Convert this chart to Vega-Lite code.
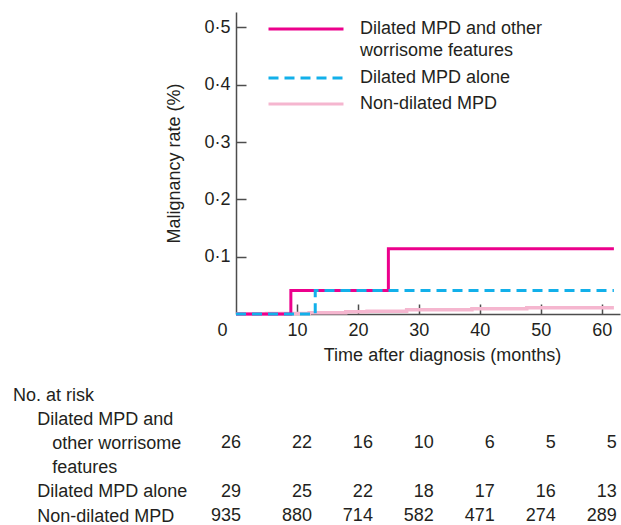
{
  "$schema": "https://vega.github.io/schema/vega-lite/v6.json",
  "padding": {"left": 12, "top": 12, "right": 0, "bottom": 0},
  "background": "white",
  "spacing": 22,
  "config": {
    "view": {"stroke": null},
    "font": "Liberation Sans",
    "text": {"font": "Liberation Sans"}
  },
  "datasets": {
    "curves": [
      {"series": "Non-dilated MPD", "time": 0, "rate": 0},
      {"series": "Non-dilated MPD", "time": 5, "rate": 0.001},
      {"series": "Non-dilated MPD", "time": 12, "rate": 0.002},
      {"series": "Non-dilated MPD", "time": 18, "rate": 0.004},
      {"series": "Non-dilated MPD", "time": 21.5, "rate": 0.005},
      {"series": "Non-dilated MPD", "time": 28, "rate": 0.0075},
      {"series": "Non-dilated MPD", "time": 38.7, "rate": 0.0093},
      {"series": "Non-dilated MPD", "time": 47.7, "rate": 0.011},
      {"series": "Non-dilated MPD", "time": 62, "rate": 0.011},
      {"series": "Dilated MPD and other worrisome features", "time": 0, "rate": 0},
      {"series": "Dilated MPD and other worrisome features", "time": 9, "rate": 0.041},
      {"series": "Dilated MPD and other worrisome features", "time": 25, "rate": 0.114},
      {"series": "Dilated MPD and other worrisome features", "time": 62, "rate": 0.114},
      {"series": "Dilated MPD alone", "time": 0, "rate": 0},
      {"series": "Dilated MPD alone", "time": 13, "rate": 0.041},
      {"series": "Dilated MPD alone", "time": 62, "rate": 0.041}
    ],
    "risk": [
      {"group": "Dilated MPD and other worrisome features", "time": 0, "n": 26},
      {"group": "Dilated MPD and other worrisome features", "time": 10, "n": 22},
      {"group": "Dilated MPD and other worrisome features", "time": 20, "n": 16},
      {"group": "Dilated MPD and other worrisome features", "time": 30, "n": 10},
      {"group": "Dilated MPD and other worrisome features", "time": 40, "n": 6},
      {"group": "Dilated MPD and other worrisome features", "time": 50, "n": 5},
      {"group": "Dilated MPD and other worrisome features", "time": 60, "n": 5},
      {"group": "Dilated MPD alone", "time": 0, "n": 29},
      {"group": "Dilated MPD alone", "time": 10, "n": 25},
      {"group": "Dilated MPD alone", "time": 20, "n": 22},
      {"group": "Dilated MPD alone", "time": 30, "n": 18},
      {"group": "Dilated MPD alone", "time": 40, "n": 17},
      {"group": "Dilated MPD alone", "time": 50, "n": 16},
      {"group": "Dilated MPD alone", "time": 60, "n": 13},
      {"group": "Non-dilated MPD", "time": 0, "n": 935},
      {"group": "Non-dilated MPD", "time": 10, "n": 880},
      {"group": "Non-dilated MPD", "time": 20, "n": 714},
      {"group": "Non-dilated MPD", "time": 30, "n": 582},
      {"group": "Non-dilated MPD", "time": 40, "n": 471},
      {"group": "Non-dilated MPD", "time": 50, "n": 274},
      {"group": "Non-dilated MPD", "time": 60, "n": 289}
    ]
  },
  "vconcat": [
    {
      "width": 384,
      "height": 302,
      "data": {"name": "curves"},
      "encoding": {
        "x": {
          "field": "time", "type": "quantitative",
          "scale": {"domain": [0, 63], "nice": false, "zero": false},
          "axis": {
            "title": "Time after diagnosis (months)",
            "values": [0, 10, 20, 30, 40, 50, 60],
            "grid": false,
            "tickSize": -10,
            "tickWidth": 1.5,
            "tickColor": "#4d4d4d",
            "tickOpacity": {"condition": {"test": "datum.value == 0", "value": 0}, "value": 1},
            "labelOffset": {"condition": {"test": "datum.value == 0", "value": -14}, "value": 0},
            "domainColor": "#4d4d4d",
            "domainWidth": 1.5,
            "labelFlush": false,
            "labelOverlap": false,
            "labelPadding": 17,
            "labelFont": "Liberation Sans",
            "labelFontSize": 18,
            "labelColor": "#231f20",
            "titleFont": "Liberation Sans",
            "titleFontSize": 18,
            "titleFontWeight": "normal",
            "titleColor": "#231f20",
            "titleX": 206,
            "titlePadding": 7
          }
        },
        "y": {
          "field": "rate", "type": "quantitative",
          "scale": {"domain": [0, 0.527], "nice": false},
          "axis": {
            "title": "Malignancy rate (%)",
            "values": [0.1, 0.2, 0.3, 0.4, 0.5],
            "labelExpr": "replace(format(datum.value, '.1f'), '.', '·')",
            "grid": false,
            "tickSize": -10,
            "tickWidth": 1.5,
            "tickColor": "#4d4d4d",
            "domainColor": "#4d4d4d",
            "domainWidth": 1.5,
            "labelPadding": 16,
            "labelFont": "Liberation Sans",
            "labelFontSize": 18,
            "labelColor": "#231f20",
            "titleFont": "Liberation Sans",
            "titleFontSize": 18,
            "titleFontWeight": "normal",
            "titleColor": "#231f20",
            "titlePadding": 20
          }
        },
        "color": {
          "field": "series", "type": "nominal",
          "scale": {
            "domain": ["Dilated MPD and other worrisome features", "Dilated MPD alone", "Non-dilated MPD"],
            "range": ["#ec008c", "#12b0ea", "#f5b6cf"]
          },
          "legend": {
            "title": null,
            "orient": "none",
            "legendX": 31,
            "legendY": 8,
            "padding": 0,
            "symbolType": "stroke",
            "symbolSize": 5625,
            "symbolStrokeWidth": 3,
            "clipHeight": 18,
            "rowPadding": 8,
            "labelOffset": 15,
            "labelFont": "Liberation Sans",
            "labelFontSize": 18,
            "labelColor": "#231f20",
            "labelLimit": 0,
            "labelExpr": "datum.value == 'Dilated MPD and other worrisome features' ? ['Dilated MPD and other', 'worrisome features'] : datum.label",
            "encode": {"labels": {"update": {"lineHeight": {"value": 22.4}}}}
          }
        },
        "strokeDash": {
          "field": "series", "type": "nominal",
          "scale": {
            "domain": ["Dilated MPD and other worrisome features", "Dilated MPD alone", "Non-dilated MPD"],
            "range": [[1, 0], [10, 6], [1, 0]]
          },
          "legend": null
        }
      },
      "layer": [
        {
          "transform": [{"filter": "datum.series == 'Non-dilated MPD'"}],
          "mark": {"type": "line", "interpolate": "step-after", "strokeWidth": 3.5}
        },
        {
          "transform": [{"filter": "datum.series == 'Dilated MPD and other worrisome features'"}],
          "mark": {"type": "line", "interpolate": "step-after", "strokeWidth": 3}
        },
        {
          "transform": [{"filter": "datum.series == 'Dilated MPD alone'"}],
          "mark": {"type": "line", "interpolate": "step-after", "strokeWidth": 3}
        }
      ]
    },
    {
      "width": 384,
      "height": 121,
      "data": {"name": "risk"},
      "encoding": {
        "x": {
          "field": "time", "type": "quantitative",
          "scale": {"domain": [0, 63], "nice": false, "zero": false},
          "axis": null
        },
        "y": {
          "field": "group", "type": "nominal",
          "scale": {
            "type": "point",
            "padding": 0,
            "domain": ["No. at risk", "_l1", "Dilated MPD and other worrisome features", "_l3", "Dilated MPD alone", "Non-dilated MPD"]
          },
          "axis": {
            "title": null,
            "ticks": false,
            "domain": false,
            "grid": false,
            "labelAlign": "left",
            "labelPadding": {
              "condition": [
                {"test": "datum.value == 'No. at risk'", "value": 223.5},
                {"test": "datum.value == 'Dilated MPD and other worrisome features' || datum.value == '_l3'", "value": 184.3}
              ],
              "value": 199.3
            },
            "labelLimit": 0,
            "labelFont": "Liberation Sans",
            "labelFontSize": 18,
            "labelColor": "#231f20",
            "labelExpr": "datum.value == '_l1' ? 'Dilated MPD and' : datum.value == 'Dilated MPD and other worrisome features' ? 'other worrisome' : datum.value == '_l3' ? 'features' : datum.label"
          }
        },
        "text": {"field": "n", "type": "quantitative"}
      },
      "layer": [
        {
          "transform": [{"filter": "datum.time == 0"}],
          "mark": {"type": "text", "align": "right", "baseline": "middle", "dx": 5, "font": "Liberation Sans", "fontSize": 18, "color": "#231f20"}
        },
        {
          "transform": [{"filter": "datum.time > 0"}],
          "mark": {"type": "text", "align": "right", "baseline": "middle", "dx": 15, "font": "Liberation Sans", "fontSize": 18, "color": "#231f20"}
        }
      ]
    }
  ]
}
